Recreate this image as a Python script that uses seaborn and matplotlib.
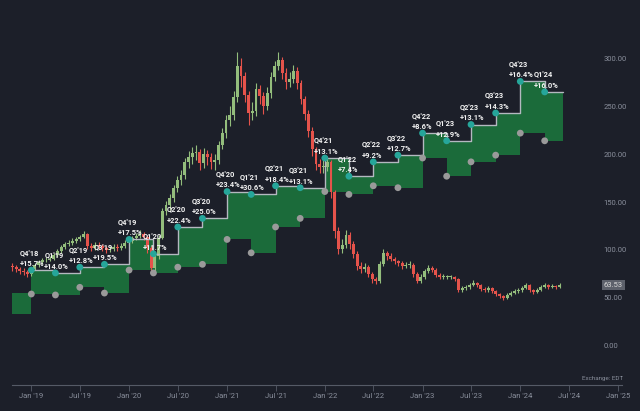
import pandas as pd
import numpy as np
import matplotlib
matplotlib.use("Agg")
import matplotlib.pyplot as plt
import matplotlib.dates as mdates
import matplotlib.transforms as mtransforms
import seaborn as sns

# colours
bg = "#1c1f29"
green_fill = "#1b6b3a"
teal = "#26a69a"
dot_gray = "#9a9a9a"
up_col = "#93bd7c"
down_col = "#e5534b"
txt_gray = "#8a8f9c"

##############################################
### DATA #####################################
##############################################

# biweekly candles, starting 2018-10-22
candle_start = "2018-10-22"
first_open = 83
closes = [82, 80, 78, 77, 75, 80, 84, 87, 89, 90,
          91, 95, 99, 103, 106, 107, 109, 111, 114, 117,
          104, 102, 105, 104, 102, 100, 101, 103, 102, 104,
          107, 109, 112, 115, 117, 114, 102, 81, 94, 113,
          141, 147, 154, 165, 173, 178, 192, 197, 201, 202,
          191, 200, 197, 192, 194, 210, 222, 236, 241, 260,
          292, 282, 262, 243, 245, 268, 261, 250, 264, 281,
          292, 298, 285, 275, 279, 287, 274, 258, 242, 224,
          205, 190, 187, 187, 192, 160, 120, 101, 105, 116,
          106, 96, 83, 80, 82, 75, 70, 68, 85, 97,
          94, 91, 88, 86, 83, 84, 84, 75, 68, 72,
          78, 81, 79, 74, 72, 72, 72, 72, 70, 58,
          60, 61, 63, 66, 63, 59, 58, 60, 57, 54,
          52, 50, 53, 55, 57, 58, 60, 63, 58, 56,
          58, 61, 63, 61, 62, 61, 63.53]
highs = [86, 84, 82, 81, 79, 82, 86, 89, 92, 93,
         94, 97, 101, 105, 108, 110, 112, 114, 116, 120,
         118, 107, 108, 108, 106, 104, 104, 106, 106, 107,
         110, 112, 115, 118, 121, 119, 116, 104, 97, 116,
         144, 151, 158, 168, 177, 183, 196, 203, 208, 210,
         205, 206, 204, 201, 200, 214, 227, 241, 250, 266,
         307, 300, 286, 266, 254, 274, 272, 265, 270, 286,
         297, 307, 302, 290, 286, 293, 291, 277, 261, 246,
         228, 208, 195, 194, 198, 194, 163, 124, 111, 121,
         119, 109, 99, 87, 86, 84, 77, 72, 88, 101,
         99, 97, 93, 90, 88, 87, 88, 86, 77, 75,
         80, 84, 83, 81, 76, 75, 74, 74, 73, 71,
         62, 63, 65, 69, 67, 64, 61, 62, 61, 58,
         55, 53, 55, 57, 59, 60, 62, 66, 64, 59,
         60, 63, 66, 64, 64, 63, 65]
lows = [78, 77, 75, 74, 72, 73, 79, 82, 85, 87,
        88, 89, 93, 97, 101, 104, 105, 107, 109, 112,
        101, 99, 100, 101, 99, 97, 98, 99, 99, 100,
        102, 105, 107, 110, 112, 110, 97, 76, 78, 91,
        111, 136, 142, 150, 160, 168, 174, 186, 190, 194,
        184, 186, 189, 185, 184, 190, 205, 217, 229, 236,
        255, 270, 254, 230, 236, 240, 252, 242, 246, 259,
        276, 288, 278, 268, 270, 274, 268, 252, 236, 218,
        198, 184, 180, 180, 182, 154, 112, 96, 97, 102,
        101, 92, 79, 76, 77, 72, 66, 64, 66, 83,
        90, 88, 85, 83, 80, 81, 81, 72, 65, 66,
        70, 76, 77, 72, 70, 70, 70, 70, 68, 56,
        56, 58, 59, 62, 61, 57, 56, 56, 55, 52,
        50, 48, 49, 52, 54, 55, 56, 59, 56, 54,
        55, 57, 60, 59, 60, 59, 60]
last_price = 63.53

# quarterly band (first step is the Q3'18 block, no label)
band_dates = ["2018-10-22", "2019-01-01", "2019-04-01", "2019-07-01", "2019-10-01",
              "2020-01-01", "2020-04-01", "2020-07-01", "2020-10-01",
              "2021-01-01", "2021-04-01", "2021-07-01", "2021-10-01",
              "2022-01-01", "2022-04-01", "2022-07-01", "2022-10-01",
              "2023-01-01", "2023-04-01", "2023-07-01", "2023-10-01",
              "2024-01-01", "2024-04-01"]
band_end = "2024-06-07"
upper = [55, 79, 76, 82, 85, 111, 96, 124, 133, 161, 158, 167, 165,
         196, 177, 192, 199, 222, 214, 231, 243, 276, 265]
lower = [33, 54, 53, 61, 55, 79, 76, 82, 85, 111, 97, 124, 133,
         161, 158, 167, 165, 196, 177, 192, 199, 222, 214]
quarters = ["Q4'18", "Q1'19", "Q2'19", "Q3'19", "Q4'19", "Q1'20", "Q2'20", "Q3'20",
            "Q4'20", "Q1'21", "Q2'21", "Q3'21", "Q4'21", "Q1'22", "Q2'22", "Q3'22",
            "Q4'22", "Q1'23", "Q2'23", "Q3'23", "Q4'23", "Q1'24"]
growth = ["+15.7%", "+14.0%", "+12.8%", "+19.5%", "+17.5%", "+11.7%", "+22.4%", "+25.0%",
          "+23.4%", "+30.6%", "+18.4%", "+13.1%", "+13.1%", "+7.4%", "+9.2%", "+12.7%",
          "+8.6%", "+12.9%", "+13.1%", "+14.3%", "+16.4%", "+16.0%"]

##############################################
### PLOT #####################################
##############################################

sns.set_theme(style="dark", rc={"axes.facecolor": bg, "figure.facecolor": bg})
plt.rcParams['font.family'] = ['Roboto', 'DejaVu Sans']

fig = plt.figure(figsize=(6.4, 4.11), dpi=100)
ax = fig.add_axes([0, 26 / 411, 1, 385 / 411])
ax.set_facecolor(bg)

# band
xs = list(pd.to_datetime(band_dates + [band_end]))
up = upper + [upper[-1]]
lo = lower + [lower[-1]]
ax.fill_between(xs, lo, up, step='post', color=green_fill, lw=0, zorder=1)

# candles
df = pd.DataFrame({"date": pd.date_range(candle_start, periods=len(closes), freq="14D"),
                   "close": closes, "high": highs, "low": lows})
df["open"] = [first_open] + closes[:-1]
cols = [up_col if c >= o else down_col for o, c in zip(df["open"], df["close"])]
ax.vlines(df["date"], df["low"], df["high"], colors=cols, lw=0.8, zorder=2)
body = np.maximum((df["close"] - df["open"]).abs(), 1.0)
ax.bar(df["date"], body, bottom=np.minimum(df["open"], df["close"]), width=11,
       color=cols, lw=0, zorder=2)

# upper step line + dots
sns.lineplot(x=xs[1:], y=up[1:], drawstyle='steps-post', estimator=None, sort=False,
             color="#b4b8c0", lw=1, ax=ax, zorder=3)
qd = pd.to_datetime(band_dates[1:])
sns.scatterplot(x=qd, y=upper[1:], color=teal, s=24, edgecolor='none', ax=ax, zorder=4)
sns.scatterplot(x=qd, y=lower[1:], color=dot_gray, s=24, edgecolor='none', ax=ax, zorder=4)

for d, u, q, g in zip(qd, upper[1:], quarters, growth):
    ax.annotate(f"{q}\n{g}", xy=(d, u), xytext=(-8, 1.5), textcoords='offset points',
                ha='left', va='bottom', color='#f2f2f2', fontsize=5.4,
                fontweight='semibold', linespacing=1.55, zorder=5)

# axes
ax.set_xlim(pd.Timestamp("2018-09-06"), pd.Timestamp("2025-03-23"))
ax.set_ylim(-41, 361)
ax.xaxis.set_major_locator(mdates.MonthLocator(bymonth=[1, 7]))
ax.xaxis.set_major_formatter(mdates.DateFormatter("%b '%y"))
ax.tick_params(axis='x', length=4, width=0.6, color="#555a66", labelcolor=txt_gray,
               labelsize=5.5, pad=2, direction='out', bottom=True)
ax.yaxis.tick_right()
ax.set_yticks(range(0, 301, 50))
ax.yaxis.set_major_formatter(plt.FuncFormatter(lambda v, p: f"{v:.2f}"))
ax.tick_params(axis='y', length=0, pad=-26.5, labelcolor=txt_gray, labelsize=5.5)
ax.grid(False)
ax.set_xlabel("")
ax.set_ylabel("")
for s in ["top", "left", "right"]:
    ax.spines[s].set_visible(False)
ax.spines["bottom"].set_color("#555a66")
ax.spines["bottom"].set_linewidth(0.8)
ax.spines["bottom"].set_bounds(mdates.date2num(pd.Timestamp(candle_start)),
                               mdates.date2num(pd.Timestamp("2025-01-16")))

# last price tag and exchange note
trans = mtransforms.blended_transform_factory(ax.transAxes, ax.transData)
ax.text(604 / 640, last_price, f"{last_price:.2f}", transform=trans, ha='left', va='center',
        fontsize=5.5, color="#d8d8d8", zorder=6,
        bbox=dict(boxstyle="square,pad=0.25", fc="#5d616b", ec="none"))
ax.text(623 / 640, 0.016, "Exchange: EDT", transform=ax.transAxes, ha='right',
        va='center', fontsize=4.5, color=txt_gray)

fig.savefig("out.png", dpi=100, facecolor=bg)
